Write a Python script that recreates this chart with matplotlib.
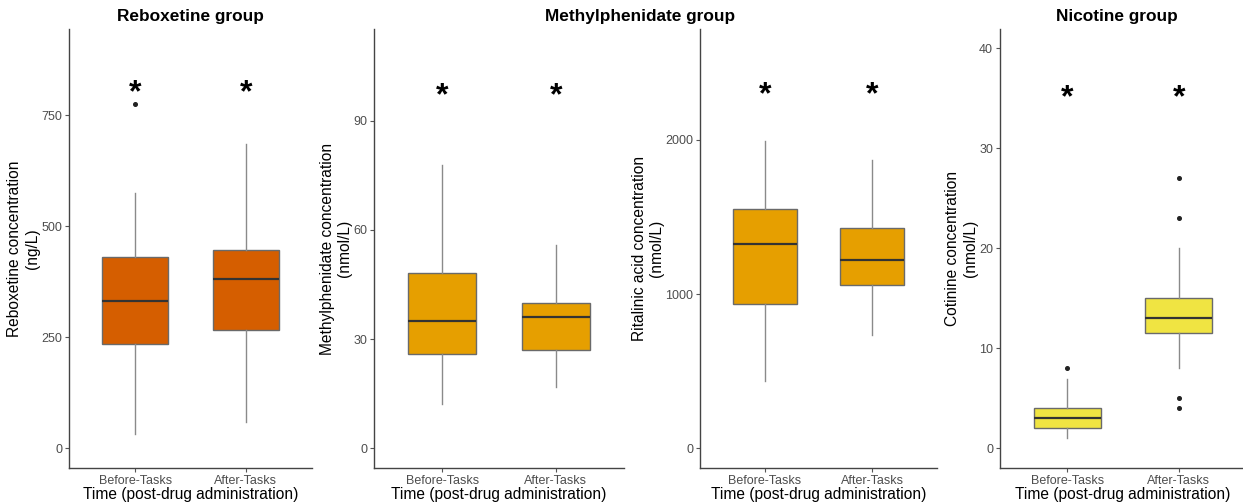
import matplotlib
matplotlib.use('Agg')
import matplotlib.pyplot as plt
from matplotlib.transforms import offset_copy

plt.rcParams['font.family'] = ['Liberation Sans', 'DejaVu Sans']

groups = ['Before-Tasks', 'After-Tasks']

# box stats per panel: [low whisker, Q1, median, Q3, high whisker]
reboxetine_stats = [[31, 235, 331, 430, 575], [59, 267, 380, 445, 684]]
reboxetine_fliers = [[774], []]
methylphenidate_stats = [[12.1, 25.8, 35.0, 48.2, 77.9], [16.9, 27.0, 36.1, 39.9, 55.9]]
methylphenidate_fliers = [[], []]
ritalinic_stats = [[434, 938, 1327, 1550, 1991], [733, 1059, 1219, 1429, 1872]]
ritalinic_fliers = [[], []]
cotinine_stats = [[1.06, 2.0, 3.0, 4.0, 6.93], [8.0, 11.5, 13.0, 15.0, 20.0]]
cotinine_fliers = [[8.0], [27, 23, 5, 4]]

star_y = [815, 98.7, 2335, 35.7]
ylims = [(-45, 944), (-5.4, 115.2), (-128, 2719), (-1.97, 41.93)]
yticks = [[0, 250, 500, 750], [0, 30, 60, 90], [0, 1000, 2000], [0, 10, 20, 30, 40]]
ylabels = ['Reboxetine concentration\n(ng/L)',
           'Methylphenidate concentration\n(nmol/L)',
           'Ritalinic acid concentration\n(nmol/L)',
           'Cotinine concentration\n(nmol/L)']
colors = ['#D55E00', '#E69F00', '#E69F00', '#F0E442']

panels = [(reboxetine_stats, reboxetine_fliers),
          (methylphenidate_stats, methylphenidate_fliers),
          (ritalinic_stats, ritalinic_fliers),
          (cotinine_stats, cotinine_fliers)]

W, H = 1243, 504
fig = plt.figure(figsize=(W / 100, H / 100), dpi=100)
lefts = [69, 374.3, 700.3, 1000]
rights = [312, 624, 936.7, 1246]
bottom = 1 - 468 / H
top = 1 - 29 / H

axes = []
for i, (stats, fliers) in enumerate(panels):
    ax = fig.add_axes([lefts[i] / W, bottom, (rights[i] - lefts[i]) / W, top - bottom])
    axes.append(ax)
    bxp_stats = []
    for s, f, name in zip(stats, fliers, groups):
        bxp_stats.append({'whislo': s[0], 'q1': s[1], 'med': s[2], 'q3': s[3],
                          'whishi': s[4], 'fliers': f, 'label': name})
    ax.bxp(bxp_stats, positions=[1, 2], widths=0.6, patch_artist=True,
           showcaps=False,
           boxprops=dict(facecolor=colors[i], edgecolor='#6a6a6a', linewidth=1.0),
           medianprops=dict(color='#333333', linewidth=1.6),
           whiskerprops=dict(color='#8a8a8a', linewidth=1.0),
           flierprops=dict(marker='o', markerfacecolor='#222222',
                           markeredgecolor='#222222', markersize=2.6))
    # the '*' glyph sits high in its box, so nudge it down a little
    star_tr = offset_copy(ax.transData, fig=fig, x=0, y=-5, units='points')
    for x in [1, 2]:
        ax.text(x, star_y[i], '*', ha='center', va='center', fontsize=23,
                fontweight='bold', color='black', transform=star_tr)
    ax.set_xlim(0.4, 2.6)
    ax.set_ylim(*ylims[i])
    ax.set_yticks(yticks[i])
    ax.set_xticks([1, 2])
    ax.set_xticklabels(groups)
    ax.tick_params(axis='both', colors='#555555', labelcolor='#4d4d4d',
                   labelsize=9, length=3, width=0.8, pad=2)
    for side in ['top', 'right']:
        ax.spines[side].set_visible(False)
    for side in ['left', 'bottom']:
        ax.spines[side].set_color('#444444')
        ax.spines[side].set_linewidth(1.0)
    ax.set_xlabel('Time (post-drug administration)', fontsize=11.2,
                  color='black', labelpad=0)
    ax.set_ylabel(ylabels[i], fontsize=11.2, color='black', labelpad=1)

fig.text(190 / W, 1 - 17 / H, 'Reboxetine group', ha='center', va='center',
         fontsize=12.4, fontweight='bold')
fig.text(640 / W, 1 - 17 / H, 'Methylphenidate group', ha='center',
         va='center', fontsize=12.4, fontweight='bold')
fig.text(1117 / W, 1 - 17 / H, 'Nicotine group', ha='center', va='center',
         fontsize=12.4, fontweight='bold')

fig.savefig('out.png', dpi=100)
